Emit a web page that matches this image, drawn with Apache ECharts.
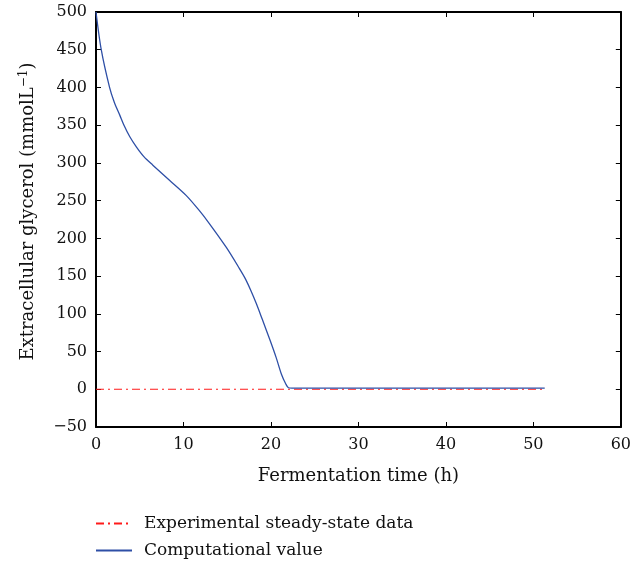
<!DOCTYPE html>
<html>
<head>
<meta charset="utf-8">
<script src="https://cdn.jsdelivr.net/npm/echarts@6/dist/echarts.min.js"></script>
<style>html,body{margin:0;padding:0;background:#fff}#c{width:634px;height:565px}</style>
</head>
<body>
<div id="c"></div>
<script>
// Data
const timeHours = [0, 0.6, 1.55, 2.1, 2.73, 3.2, 3.85, 4.63, 5.5, 6.5, 8.4, 10.3, 11.8, 13.0, 14.9, 16.4, 17.05, 17.7, 18.35, 19.0, 19.9, 20.6, 21.2, 21.7, 22.0, 22.4, 30, 40, 51.3];
const glycerolComputed = [500, 450, 400, 380, 363, 350, 335, 321, 308, 297, 277, 257, 237, 219, 188, 160, 147, 131, 113, 93, 65, 42, 20, 7, 2, 1.5, 1.5, 1.5, 1.5];
const steadyTimes = [0, 51];
const steadyValues = [0, 0];
const xTicks = [0, 10, 20, 30, 40, 50, 60];
const yTicks = [-50, 0, 50, 100, 150, 200, 250, 300, 350, 400, 450, 500];

const font = 'DejaVu Serif';
const chart = echarts.init(document.getElementById('c'), null, {renderer: 'canvas'});
const computed = timeHours.map((t, i) => [t, glycerolComputed[i]]);
const steady = steadyTimes.map((t, i) => [t, steadyValues[i]]);

const tickStyle = {show: true, inside: true, length: 5, lineStyle: {color: '#000', width: 1}};
const boxLine = {show: true, onZero: false, lineStyle: {color: '#000', width: 2}};
chart.setOption({
  animation: false,
  backgroundColor: '#fff',
  textStyle: {fontFamily: font},
  grid: {left: 96, top: 12, right: 11, bottom: 138},
  legend: {
    orient: 'vertical', left: 95, top: 513, padding: 0, itemWidth: 36, itemHeight: 14, itemGap: 6,
    itemStyle: {opacity: 0},
    textStyle: {fontFamily: font, fontSize: 17, color: '#111', lineHeight: 21, padding: [0, 0, 0, 7]},
    data: ['Experimental steady-state data', 'Computational value']
  },
  xAxis: [{
    type: 'value', min: xTicks[0], max: xTicks[xTicks.length - 1], interval: 10,
    position: 'bottom',
    name: 'Fermentation time (h)', nameLocation: 'middle', nameGap: 40,
    nameTextStyle: {fontFamily: font, fontSize: 18, color: '#111'},
    axisLine: boxLine,
    axisTick: tickStyle,
    axisLabel: {fontFamily: font, fontSize: 16, color: '#111', margin: 10},
    splitLine: {show: false}
  }, {
    type: 'value', min: 0, max: 60, interval: 10, position: 'top', show: true,
    axisLine: boxLine, axisTick: tickStyle, axisLabel: {show: false}, splitLine: {show: false}
  }],
  yAxis: [{
    type: 'value', min: yTicks[0], max: yTicks[yTicks.length - 1], interval: 50,
    name: 'Extracellular glycerol (mmolL{sup|−1})', nameLocation: 'middle', nameGap: 57,
    nameTextStyle: {fontFamily: font, fontSize: 18, color: '#111', padding: [0, 0, 0, 16],
      rich: {sup: {fontFamily: font, fontSize: 12, color: '#111', padding: [0, 0, 9, 0]}}},
    axisLine: boxLine,
    axisTick: tickStyle,
    axisLabel: {fontFamily: font, fontSize: 16, color: '#111', margin: 9,
      formatter: v => String(v).replace('-', '−')},
    splitLine: {show: false}
  }, {
    type: 'value', min: -50, max: 500, interval: 50, position: 'right', show: true,
    axisLine: boxLine, axisTick: tickStyle, axisLabel: {show: false}, splitLine: {show: false}
  }],
  series: [{
    name: 'Experimental steady-state data', type: 'line', data: steady,
    symbol: 'none', z: 2,
    lineStyle: {color: '#ff1a1a', width: 1.2, type: [8, 4, 2, 4]},
    itemStyle: {color: '#ff1a1a'}
  }, {
    name: 'Computational value', type: 'line', data: computed,
    symbol: 'none', smooth: 0.3, z: 3,
    lineStyle: {color: '#2e4fa6', width: 1.3},
    itemStyle: {color: '#2e4fa6'}
  }]
});
</script>
</body>
</html>
